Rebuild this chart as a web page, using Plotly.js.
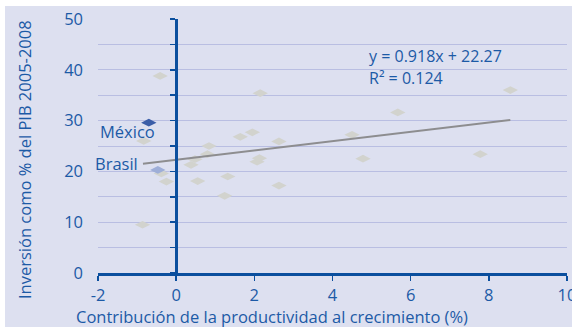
<!DOCTYPE html>
<html>
<head>
<meta charset="utf-8">
<script src="https://cdn.plot.ly/plotly-3.0.1.min.js"></script>
<style>
  html, body { margin: 0; padding: 0; background: #ffffff; }
  #chart { position: absolute; left: 5px; top: 6px; width: 567px; height: 321px; }
</style>
</head>
<body>
<div id="chart"></div>
<script>
// Productivity contribution to growth (%) vs. investment as % of GDP, 2005-2008
const otherX = [-0.41, 2.15, -0.83, 1.64, 1.95, 2.63, 0.84, 0.80, -0.38, -0.25, 0.38, 0.48,
                0.55, 1.32, 1.24, 2.07, 2.13, 2.63, -0.86, 8.55, 5.67, 4.50, 4.78, 7.78];
const otherY = [38.8, 35.4, 26.0, 26.8, 27.7, 25.9, 25.0, 23.4, 19.6, 18.0, 21.3, 22.4,
                18.1, 19.0, 15.2, 21.9, 22.6, 17.2, 9.5, 36.0, 31.6, 27.2, 22.5, 23.4];

const mexico = { name: 'México', x: -0.70, y: 29.6 };
const brasil = { name: 'Brasil', x: -0.47, y: 20.3 };

// Linear trend stated on the chart
const slope = 0.918;
const intercept = 22.27;
const r2 = 0.124;
const trendX = [-0.85, 8.55];
const trendY = trendX.map(v => slope * v + intercept);

const xTicks = [-2, 0, 2, 4, 6, 8, 10];
const yTicks = [0, 10, 20, 30, 40, 50];
const yMinorTicks = [0, 5, 10, 15, 20, 25, 30, 35, 40, 45, 50];

const xTitle = 'Contribución de la productividad al crecimiento (%)';
const yTitle = 'Inversión como % del PIB 2005-2008';

const blue = '#1c5aa6';
const axisBlue = '#0b4f9e';
const bg = '#dde0f0';
const font = 'Open Sans, Noto Sans, sans-serif';

const traces = [
  {
    x: otherX, y: otherY, type: 'scatter', mode: 'markers',
    marker: { symbol: 'diamond-wide', size: 11, color: '#d2d3ce', line: { width: 0 } },
    hoverinfo: 'skip', showlegend: false
  },
  {
    x: trendX, y: trendY, type: 'scatter', mode: 'lines',
    line: { color: '#8d8d8f', width: 2 },
    hoverinfo: 'skip', showlegend: false
  },
  {
    x: [mexico.x], y: [mexico.y], type: 'scatter', mode: 'markers',
    marker: { symbol: 'diamond-wide', size: 11, color: '#3a5da8' },
    hoverinfo: 'skip', showlegend: false
  },
  {
    x: [brasil.x], y: [brasil.y], type: 'scatter', mode: 'markers',
    marker: { symbol: 'diamond-wide', size: 11, color: '#9eaed8' },
    hoverinfo: 'skip', showlegend: false
  },
  // empty trace so the vertical axis through x = 0 is drawn
  {
    x: [], y: [], yaxis: 'y2', type: 'scatter', showlegend: false, hoverinfo: 'skip'
  }
];

const layout = {
  width: 567, height: 321,
  margin: { l: 93, r: 5, t: 13, b: 54 },
  paper_bgcolor: bg, plot_bgcolor: bg,
  font: { family: font, color: blue, size: 16 },
  showlegend: false,
  xaxis: {
    range: [-2, 10], tickvals: xTicks, ticktext: xTicks.map(String),
    showgrid: false, zeroline: false,
    showline: true, linecolor: axisBlue, linewidth: 3,
    ticks: 'outside', ticklen: 5, tickwidth: 1.5, tickcolor: axisBlue,
    ticklabeloverflow: 'allow',
    tickfont: { size: 16.5, color: blue }
  },
  yaxis: {
    range: [0, 50], tickvals: yTicks, ticktext: yTicks.map(String),
    showgrid: true, gridcolor: '#b9bee2', gridwidth: 1,
    minor: { tickvals: yMinorTicks, showgrid: true, gridcolor: '#b9bee2', ticks: '' },
    zeroline: false, showline: false, ticks: '',
    ticklabelstandoff: 14,
    tickfont: { size: 16.5, color: blue }
  },
  yaxis2: {
    range: [0, 50], overlaying: 'y', anchor: 'free', position: 2 / 12,
    showgrid: false, zeroline: false, showticklabels: false,
    showline: true, linecolor: axisBlue, linewidth: 2.5,
    ticks: 'outside', tickvals: yMinorTicks,
    ticklen: 5, tickwidth: 1.5, tickcolor: axisBlue
  },
  annotations: [
    { x: 0.372, y: 0, xref: 'paper', yref: 'paper', yshift: -43,
      text: xTitle, showarrow: false, xanchor: 'center', yanchor: 'middle',
      font: { size: 16.5, color: blue } },
    { x: 0, y: 0.5, xref: 'paper', yref: 'paper', xshift: -74, yshift: -14,
      text: yTitle, textangle: -90, showarrow: false, xanchor: 'center', yanchor: 'middle',
      font: { size: 16.5, color: blue } },
    { x: -0.5, y: 27.9, xref: 'x', yref: 'y', text: mexico.name, showarrow: false,
      xanchor: 'right', yanchor: 'middle', font: { size: 16.5, color: blue } },
    { x: -0.92, y: 21.6, xref: 'x', yref: 'y', text: brasil.name, showarrow: false,
      xanchor: 'right', yanchor: 'middle', font: { size: 16.5, color: blue } },
    { x: 4.88, y: 42.8, xref: 'x', yref: 'y', text: 'y = ' + slope + 'x + ' + intercept, showarrow: false,
      xanchor: 'left', yanchor: 'middle', font: { size: 16, color: blue } },
    { x: 4.88, y: 38.4, xref: 'x', yref: 'y', text: 'R² = ' + r2, showarrow: false,
      xanchor: 'left', yanchor: 'middle', font: { size: 16, color: blue } }
  ]
};

Plotly.newPlot('chart', traces, layout, { staticPlot: true, displayModeBar: false });
</script>
</body>
</html>
